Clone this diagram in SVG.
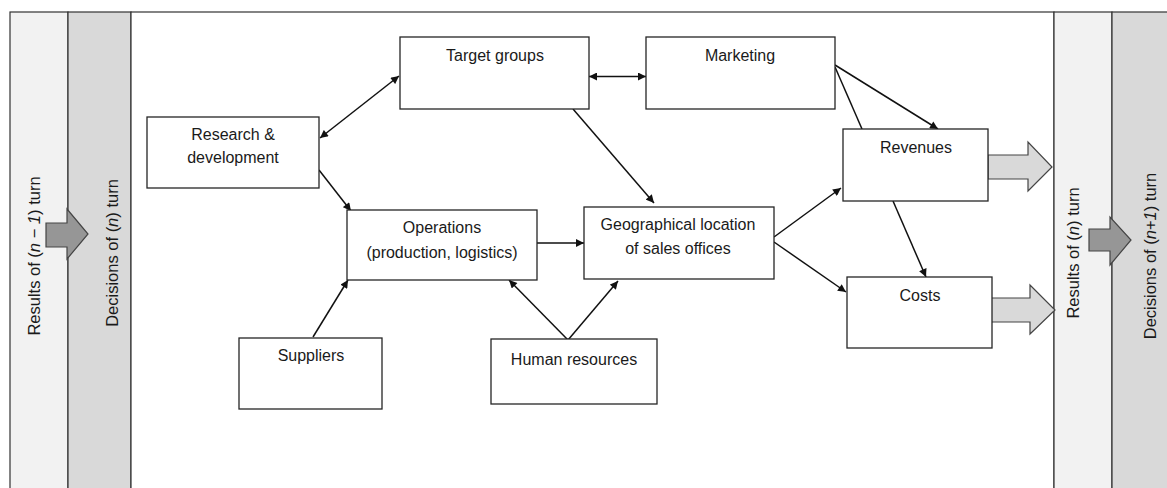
<svg xmlns="http://www.w3.org/2000/svg" width="1167" height="488" viewBox="0 0 1167 488">
<defs>
<style>
.box{fill:#fff;stroke:#262626;stroke-width:1.3}
.lbl{font-family:"Liberation Sans",Arial,sans-serif;font-size:16px;fill:#1a1a1a;text-anchor:middle}
.side{font-family:"Liberation Sans",Arial,sans-serif;font-size:16.5px;fill:#1a1a1a;text-anchor:middle}
.con{stroke:#111;stroke-width:1.5;fill:none}
.it{font-style:italic}
.strip{stroke:#333;stroke-width:1.2}
</style>
<marker id="ah" viewBox="0 0 10 10" refX="10" refY="5" markerWidth="9" markerHeight="8" markerUnits="userSpaceOnUse" orient="auto-start-reverse">
<path d="M0,0 L10,5 L0,10 z" fill="#111"/>
</marker>
</defs>
<rect width="1167" height="488" fill="#fff"/>
<g id="strips">
<rect class="strip" x="10" y="12" width="58" height="480" fill="#f2f2f2"/>
<rect class="strip" x="68" y="12" width="63" height="480" fill="#d9d9d9"/>
<rect class="strip" x="131" y="12" width="923" height="480" fill="#fff"/>
<rect class="strip" x="1054" y="12" width="58" height="480" fill="#f2f2f2"/>
<rect class="strip" x="1112" y="12" width="60" height="480" fill="#d9d9d9"/>
<text class="side" transform="translate(39.5,256) rotate(-90)">Results of (<tspan class="it">n</tspan> − <tspan class="it">1</tspan>) turn</text>
<text class="side" transform="translate(117.5,253) rotate(-90)">Decisions of (<tspan class="it">n</tspan>) turn</text>
<text class="side" transform="translate(1078.5,253) rotate(-90)">Results of (<tspan class="it">n</tspan>) turn</text>
<text class="side" transform="translate(1155.5,256) rotate(-90)">Decisions of (<tspan class="it">n</tspan>+<tspan class="it">1</tspan>) turn</text>
<path d="M46,223 H67 V209 L88,234 L67,259 V247 H46 Z" fill="#969696" stroke="#444" stroke-width="1.2"/>
<path d="M1089,229 H1110 V217 L1131,240 L1110,265 V251 H1089 Z" fill="#969696" stroke="#444" stroke-width="1.2"/>
</g>
<g id="outarrows">
<path d="M988,155 H1028 V142 L1052,167 L1028,191 V179 H988 Z" fill="#d9d9d9" stroke="#444" stroke-width="1.2"/>
<path d="M991,298 H1030 V285 L1055,310 L1030,334 V322 H991 Z" fill="#d9d9d9" stroke="#444" stroke-width="1.2"/>
</g>
<g id="connectors">
<line class="con" x1="320" y1="138" x2="399" y2="76" marker-start="url(#ah)" marker-end="url(#ah)"/>
<line class="con" x1="319" y1="170" x2="351" y2="211" marker-end="url(#ah)"/>
<line class="con" x1="589" y1="76.5" x2="646" y2="76.5" marker-start="url(#ah)" marker-end="url(#ah)"/>
<line class="con" x1="573" y1="109" x2="654" y2="203" marker-end="url(#ah)"/>
<line class="con" x1="537" y1="243" x2="584" y2="243" marker-end="url(#ah)"/>
<line class="con" x1="835" y1="65" x2="938" y2="129" marker-end="url(#ah)"/>
<line class="con" x1="835" y1="67" x2="862" y2="129"/>
<line class="con" x1="774" y1="237" x2="841" y2="188" marker-end="url(#ah)"/>
<line class="con" x1="774" y1="242" x2="846" y2="292" marker-end="url(#ah)"/>
<line class="con" x1="893" y1="201" x2="926" y2="277" marker-end="url(#ah)"/>
<line class="con" x1="313" y1="337" x2="348" y2="280" marker-end="url(#ah)"/>
<line class="con" x1="568" y1="340" x2="509" y2="280" marker-end="url(#ah)"/>
<line class="con" x1="568" y1="340" x2="618" y2="281" marker-end="url(#ah)"/>
</g>
<g id="target-groups"><rect class="box" x="400" y="37" width="189" height="72"/><text class="lbl" x="495" y="61">Target groups</text></g>
<g id="marketing"><rect class="box" x="646" y="37" width="189" height="72"/><text class="lbl" x="740" y="61">Marketing</text></g>
<g id="research"><rect class="box" x="147" y="117" width="172" height="71"/><text class="lbl" x="233" y="140">Research &amp;</text><text class="lbl" x="233" y="163">development</text></g>
<g id="operations"><rect class="box" x="347" y="210" width="190" height="70"/><text class="lbl" x="442" y="233">Operations</text><text class="lbl" x="442" y="257.5">(production, logistics)</text></g>
<g id="geo"><rect class="box" x="584" y="207" width="190" height="72"/><text class="lbl" x="678" y="230">Geographical location</text><text class="lbl" x="678" y="254">of sales offices</text></g>
<g id="revenues"><rect class="box" x="843" y="129" width="145" height="72"/><text class="lbl" x="916" y="153">Revenues</text></g>
<g id="costs"><rect class="box" x="847" y="277" width="145" height="71"/><text class="lbl" x="920" y="300.5">Costs</text></g>
<g id="suppliers"><rect class="box" x="239" y="338" width="143" height="71"/><text class="lbl" x="311" y="361">Suppliers</text></g>
<g id="hr"><rect class="box" x="491" y="339" width="166" height="65"/><text class="lbl" x="574" y="365">Human resources</text></g>
</svg>
